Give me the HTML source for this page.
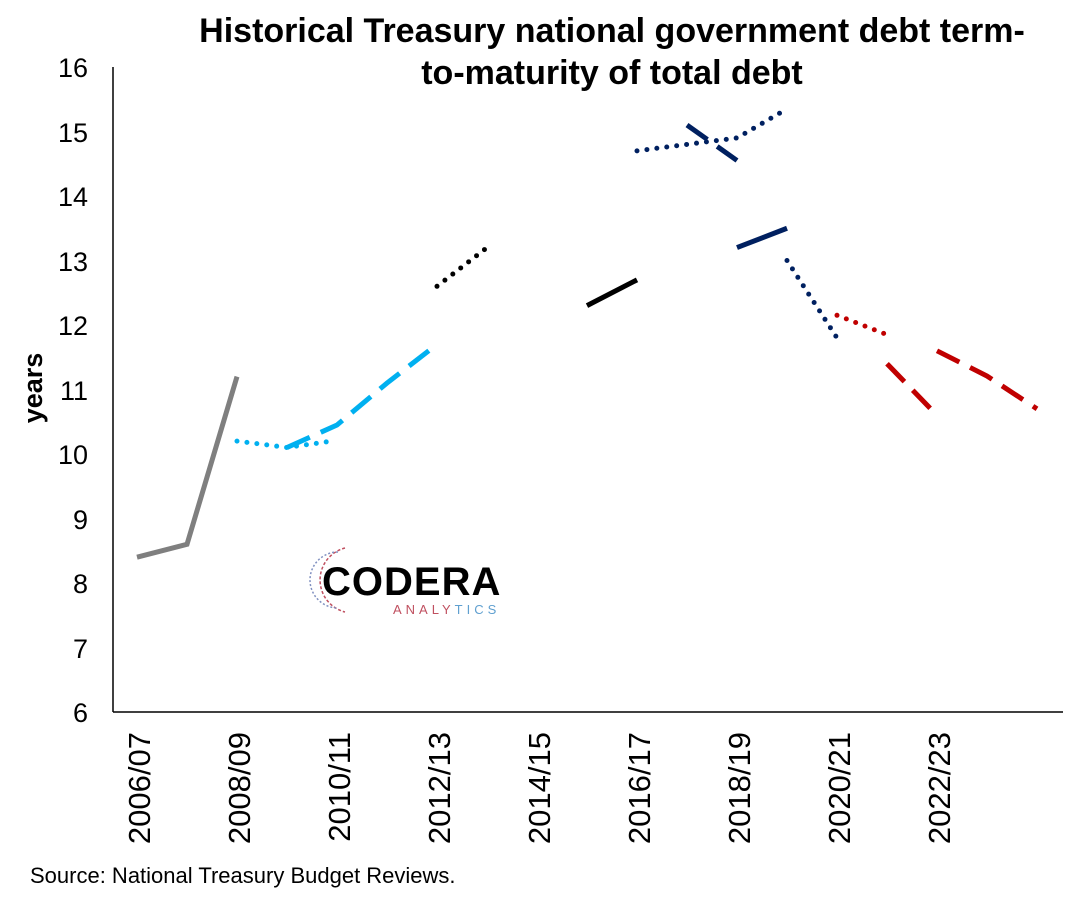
<!DOCTYPE html><html><head><style>body{margin:0;background:#fff}svg{display:block}text{font-family:"Liberation Sans",sans-serif}</style></head><body>
<svg width="1080" height="901" viewBox="0 0 1080 901">
<text x="612" y="42" font-size="34" font-weight="bold" text-anchor="middle">Historical Treasury national government debt term-</text>
<text x="612" y="84" font-size="34" font-weight="bold" text-anchor="middle">to-maturity of total debt</text>
<g stroke="#000" stroke-width="1.5"><line x1="113" y1="67" x2="113" y2="712"/><line x1="113" y1="712" x2="1063" y2="712"/></g>
<g font-size="27" text-anchor="end">
<text x="88" y="77">16</text><text x="88" y="142">15</text><text x="88" y="206">14</text><text x="88" y="271">13</text><text x="88" y="335">12</text><text x="88" y="400">11</text><text x="88" y="464">10</text><text x="88" y="529">9</text><text x="88" y="593">8</text><text x="88" y="658">7</text><text x="88" y="722">6</text></g>
<text transform="translate(42,388) rotate(-90)" font-size="27" font-weight="bold" text-anchor="middle">years</text>
<g font-size="31" text-anchor="end">
<text transform="translate(150,732) rotate(-90)">2006/07</text>
<text transform="translate(250,732) rotate(-90)">2008/09</text>
<text transform="translate(350,732) rotate(-90)">2010/11</text>
<text transform="translate(450,732) rotate(-90)">2012/13</text>
<text transform="translate(550,732) rotate(-90)">2014/15</text>
<text transform="translate(650,732) rotate(-90)">2016/17</text>
<text transform="translate(750,732) rotate(-90)">2018/19</text>
<text transform="translate(850,732) rotate(-90)">2020/21</text>
<text transform="translate(950,732) rotate(-90)">2022/23</text></g>
<g fill="none" stroke-width="5">
<polyline stroke="#7f7f7f" points="137,557.2 187,544.3 237,376.6"/>
<g stroke-dasharray="0 10" stroke-linecap="round">
<polyline stroke="#00b0f0" points="237,441.1 287,447.5 332,441.1"/>
<polyline stroke="#000" points="437,286.3 487,247.6"/>
<polyline stroke="#002060" points="637,150.85 687,144.4 737,137.95 787,108.9"/>
<polyline stroke="#002060" points="787,260.5 837,337.9"/>
<polyline stroke="#c00000" points="837,315.3 887,334.65"/>
</g>
<g stroke-dasharray="25 12">
<polyline stroke="#00b0f0" points="287,447.5 337,425 387,383.05 437,344.35"/>
<polyline stroke="#002060" points="687,125.05 737,160.5"/>
<polyline stroke="#c00000" points="887,363.7 937,415.3"/>
<polyline stroke="#c00000" points="937,350.8 987,376 1037,408.85"/>
</g>
<polyline stroke="#000" points="587,305.65 637,279.85"/>
<polyline stroke="#002060" points="737,247.6 787,228.25"/>
</g>
<g fill="none" stroke-width="1.5">
<path d="M345,548 A33,33 0 0 0 345,612" stroke="#c05060" stroke-dasharray="3 2"/>
<path d="M338,552 A28,28 0 0 0 338,608" stroke="#8090c0" stroke-dasharray="2 2"/>
</g>
<text x="322" y="595" font-size="40" font-weight="bold" letter-spacing="1">CODERA</text>
<text x="393" y="614" font-size="13" fill="#c05060" letter-spacing="4">ANALY<tspan fill="#60a0d0">TICS</tspan></text>
<text x="30" y="883" font-size="22">Source: National Treasury Budget Reviews.</text>
</svg></body></html>
